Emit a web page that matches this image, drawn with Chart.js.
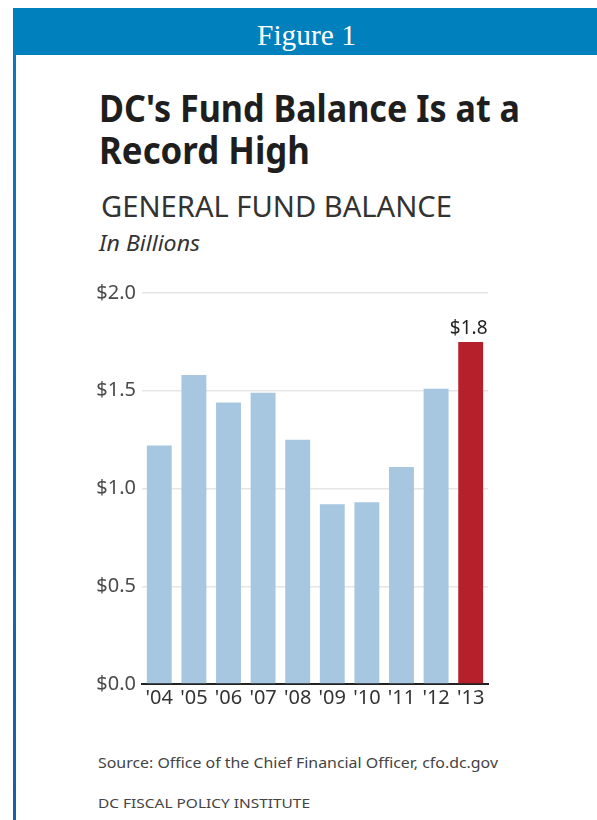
<!DOCTYPE html>
<html>
<head>
<meta charset="utf-8">
<script src="https://cdn.jsdelivr.net/npm/chart.js@4.4.0/dist/chart.umd.min.js"></script>
<style>
  body { margin: 0; background: #fff; width: 597px; height: 820px; overflow: hidden; position: relative; font-family: "Noto Sans", "Open Sans", sans-serif; }
  .t { position: absolute; white-space: nowrap; line-height: 1; transform-origin: 0 0; }
  #band { position: absolute; left: 13px; top: 8px; width: 584px; height: 47px; background: #0081BE; }
  #edge { position: absolute; left: 13px; top: 55px; width: 3px; height: 765px; background: linear-gradient(#0a78bd, #1a5cae); }
  #fig { font-family: "Liberation Serif", serif; color: #fff; font-size: 30px; left: 257px; top: 20px; }
  #wrap { position: absolute; left: 80px; top: 270px; width: 412px; height: 450px; }
</style>
</head>
<body>
<div id="band"></div>
<div id="edge"></div>
<div class="t" id="fig" data-w="99">Figure 1</div>
<div class="t" style="left:99px;top:88px;font-size:38px;font-weight:700;color:#1e1e1e" data-w="421">DC's Fund Balance Is at a</div>
<div class="t" style="left:99px;top:130px;font-size:38px;font-weight:700;color:#1e1e1e" data-w="211">Record High</div>
<div class="t" style="left:101px;top:191px;font-size:29px;color:#333" data-w="351">GENERAL FUND BALANCE</div>
<div class="t" style="left:99px;top:233px;font-size:21px;font-style:italic;color:#333" data-w="101">In Billions</div>
<div class="t" style="left:98px;top:755px;font-size:15px;color:#444" data-w="400">Source: Office of the Chief Financial Officer, cfo.dc.gov</div>
<div class="t" style="left:98px;top:797px;font-size:13px;color:#444" data-w="212">DC FISCAL POLICY INSTITUTE</div>
<div id="wrap"><canvas id="chart"></canvas></div>
<script>
// fit each text line to the width measured on the reference
document.querySelectorAll('[data-w]').forEach(function (el) {
    var w = el.getBoundingClientRect().width;
    el.style.transform = 'scaleX(' + (parseFloat(el.getAttribute('data-w')) / w) + ')';
});

// General fund balance, $ billions
const years = ["'04", "'05", "'06", "'07", "'08", "'09", "'10", "'11", "'12", "'13"];
const balance = [1.22, 1.58, 1.44, 1.49, 1.25, 0.92, 0.93, 1.11, 1.51, 1.75];
const highlight = [false, false, false, false, false, false, false, false, false, true];
const yTicks = [0, 0.5, 1.0, 1.5, 2.0];

const barColors = highlight.map(function (h) { return h ? '#B5202B' : '#A7C7E1'; });

// value label above highlighted bar
const topLabel = {
    id: 'topLabel',
    afterDatasetsDraw(chart) {
        const ctx = chart.ctx;
        const meta = chart.getDatasetMeta(0);
        ctx.save();
        ctx.font = '19px "Noto Sans"';
        ctx.fillStyle = '#222';
        ctx.textAlign = 'center';
        ctx.textBaseline = 'alphabetic';
        meta.data.forEach(function (bar, i) {
            if (!highlight[i]) return;
            const v = Math.round(balance[i] * 10) / 10;
            ctx.fillText('$' + v.toFixed(1), bar.x - 2, bar.y - 8);
        });
        ctx.restore();
    }
};

new Chart(document.getElementById('chart'), {
    type: 'bar',
    data: {
        labels: years,
        datasets: [{
            data: balance,
            backgroundColor: barColors,
            borderWidth: 0,
            barPercentage: 0.72,
            categoryPercentage: 1.0
        }]
    },
    options: {
        responsive: true,
        maintainAspectRatio: false,
        animation: false,
        layout: { padding: { top: 23, right: 4, left: 0, bottom: 0 } },
        plugins: { legend: { display: false }, tooltip: { enabled: false } },
        scales: {
            x: {
                grid: { display: false },
                border: { display: true, color: '#222', width: 2 },
                ticks: { color: '#333', font: { family: 'Noto Sans', size: 20 }, padding: -6, maxRotation: 0, autoSkip: false },
                afterFit: function (s) { s.height = 36; }
            },
            y: {
                min: 0,
                max: 2,
                afterBuildTicks: function (s) { s.ticks = yTicks.map(function (v) { return { value: v }; }); },
                grid: { color: '#e6e6e6', lineWidth: 1.5, drawTicks: false },
                border: { display: false },
                ticks: {
                    color: '#4a4a4a',
                    padding: 6,
                    font: { family: 'Noto Sans', size: 20 },
                    callback: function (v) { return '$' + v.toFixed(1); }
                },
                afterFit: function (s) { s.width = 62; }
            }
        }
    },
    plugins: [topLabel]
});
</script>
</body>
</html>
